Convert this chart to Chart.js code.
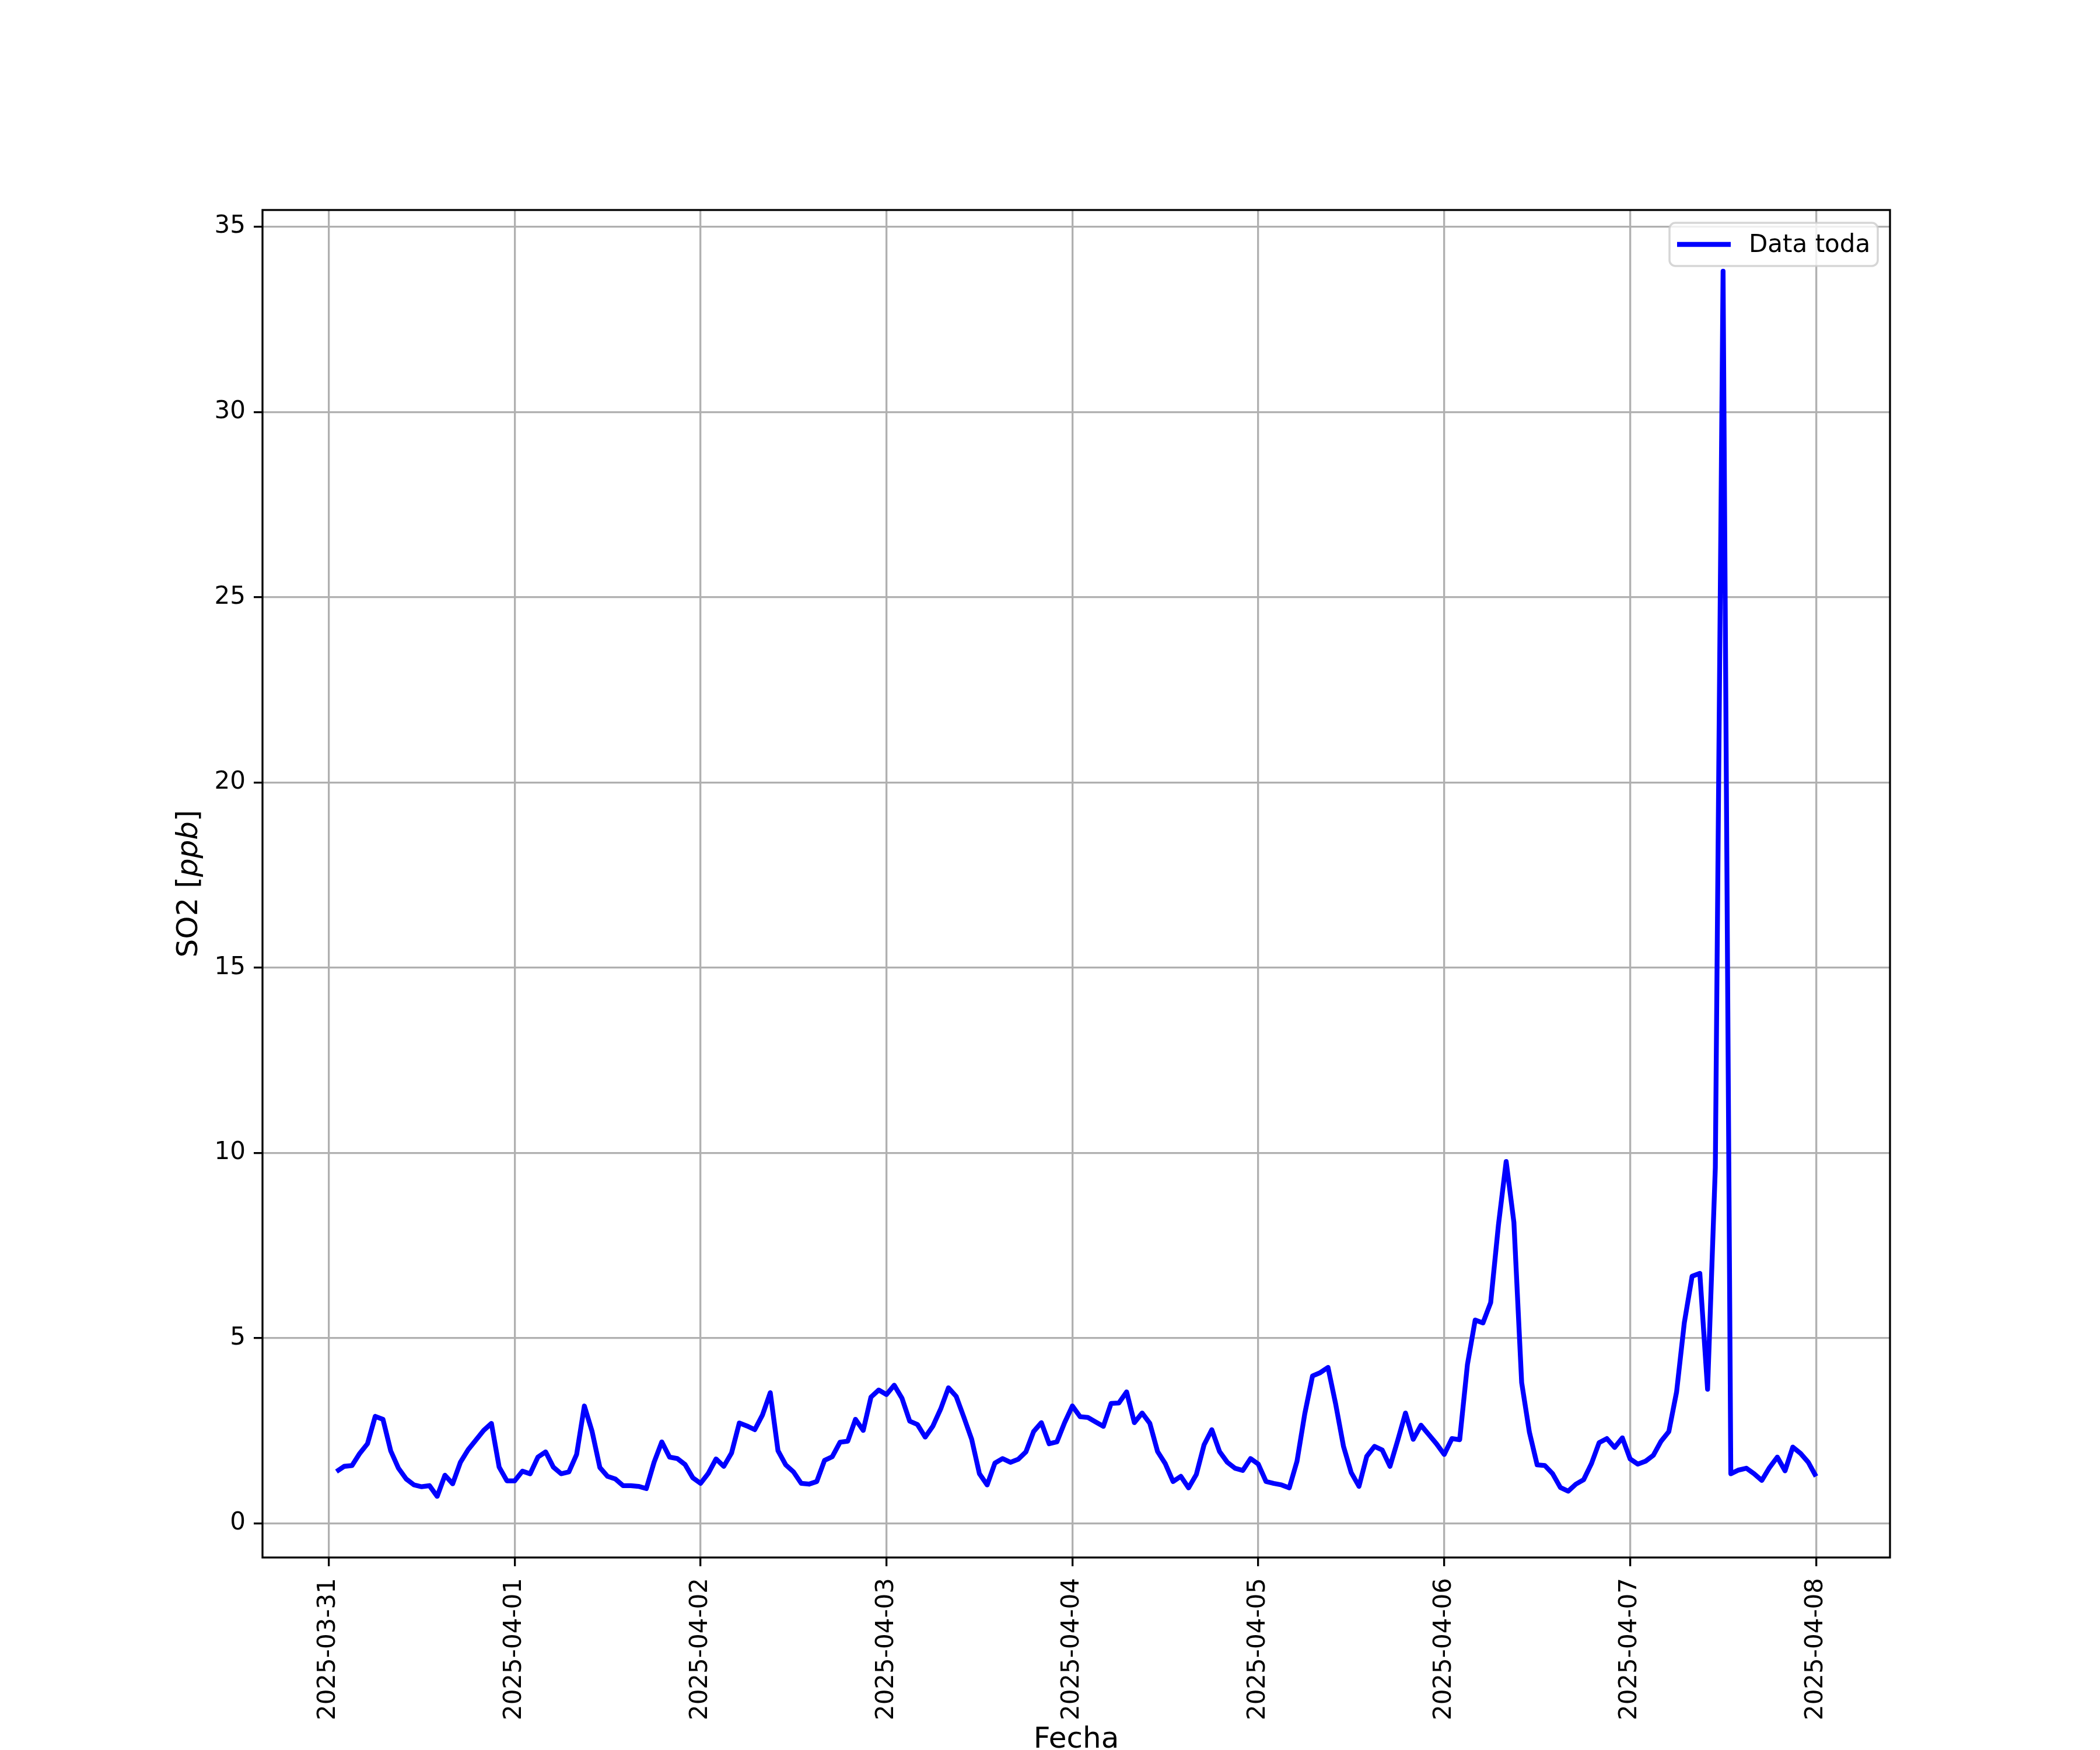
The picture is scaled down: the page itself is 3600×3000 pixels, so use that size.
<!DOCTYPE html>
<html>
<head>
<meta charset="utf-8">
<script src="https://cdn.jsdelivr.net/npm/chart.js@4.4.1/dist/chart.umd.min.js"></script>
<style>
  body { margin: 0; background: #fff; }
  canvas { display: block; }
</style>
</head>
<body>
<canvas id="grafico" width="3600" height="3000"></canvas>
<script>
// SO2 [ppb], un valor por hora: de 01:00 hasta 24:00 (00:00 del dia siguiente)
const dia0331 = [1.40, 1.54, 1.56, 1.89, 2.15, 2.89, 2.81, 1.96, 1.49, 1.20, 1.04, 0.99, 1.02, 0.73, 1.30, 1.07, 1.65, 1.99, 2.25, 2.51, 2.70, 1.52, 1.15, 1.15];
const dia0401 = [1.41, 1.34, 1.79, 1.93, 1.52, 1.34, 1.39, 1.86, 3.17, 2.48, 1.51, 1.27, 1.20, 1.02, 1.02, 1.00, 0.94, 1.65, 2.20, 1.79, 1.75, 1.59, 1.23, 1.08];
const dia0402 = [1.35, 1.74, 1.54, 1.90, 2.71, 2.63, 2.53, 2.93, 3.53, 1.96, 1.58, 1.39, 1.08, 1.06, 1.13, 1.70, 1.80, 2.19, 2.22, 2.81, 2.51, 3.41, 3.60, 3.48];
const dia0403 = [3.73, 3.38, 2.76, 2.67, 2.33, 2.63, 3.09, 3.66, 3.43, 2.86, 2.27, 1.34, 1.04, 1.63, 1.75, 1.65, 1.73, 1.93, 2.48, 2.72, 2.15, 2.20, 2.72, 3.17];
const dia0404 = [2.88, 2.86, 2.74, 2.62, 3.24, 3.25, 3.55, 2.72, 2.98, 2.70, 1.94, 1.61, 1.13, 1.27, 0.96, 1.32, 2.12, 2.53, 1.94, 1.65, 1.49, 1.43, 1.75, 1.60];
const dia0405 = [1.13, 1.08, 1.04, 0.96, 1.68, 2.96, 3.98, 4.07, 4.21, 3.21, 2.08, 1.37, 1.00, 1.81, 2.08, 1.98, 1.54, 2.24, 2.98, 2.27, 2.65, 2.40, 2.15, 1.86];
const dia0406 = [2.29, 2.26, 4.29, 5.49, 5.41, 5.96, 8.05, 9.77, 8.12, 3.80, 2.46, 1.58, 1.56, 1.34, 0.97, 0.87, 1.06, 1.18, 1.61, 2.18, 2.29, 2.05, 2.31, 1.74];
const dia0407 = [1.60, 1.68, 1.84, 2.22, 2.48, 3.55, 5.42, 6.67, 6.75, 3.62, 9.60, 33.80, 1.34, 1.44, 1.49, 1.34, 1.16, 1.51, 1.79, 1.42, 2.06, 1.89, 1.65, 1.27];

const fechas = ['2025-03-31', '2025-04-01', '2025-04-02', '2025-04-03', '2025-04-04', '2025-04-05', '2025-04-06', '2025-04-07', '2025-04-08'];
const horasFechas = [0, 24, 48, 72, 96, 120, 144, 168, 192]; // horas desde 2025-03-31 00:00
const ticksY = [0, 5, 10, 15, 20, 25, 30, 35];

const valores = [].concat(dia0331, dia0401, dia0402, dia0403, dia0404, dia0405, dia0406, dia0407);
const puntos = valores.map((v, i) => ({ x: i + 1, y: v })); // x = hora desde 2025-03-31 00:00

const FUENTE = '"DejaVu Sans", sans-serif';
const AZUL = '#0000ff';
const GRIS = '#b0b0b0';

// marco, leyenda y titulos de ejes al estilo matplotlib
const marcoYTextos = {
    id: 'marcoYTextos',
    afterDraw(chart) {
        const { ctx, chartArea: a } = chart;
        ctx.save();

        ctx.strokeStyle = '#000';
        ctx.lineWidth = 3.3;
        ctx.strokeRect(a.left, a.top, a.right - a.left, a.bottom - a.top);

        // leyenda
        const lw = 357, lh = 74;
        const lx = a.right - 21 - lw, ly = a.top + 22, r = 10;
        ctx.beginPath();
        ctx.moveTo(lx + r, ly);
        ctx.arcTo(lx + lw, ly, lx + lw, ly + lh, r);
        ctx.arcTo(lx + lw, ly + lh, lx, ly + lh, r);
        ctx.arcTo(lx, ly + lh, lx, ly, r);
        ctx.arcTo(lx, ly, lx + lw, ly, r);
        ctx.closePath();
        ctx.fillStyle = 'rgba(255,255,255,0.8)';
        ctx.fill();
        ctx.strokeStyle = 'rgba(204,204,204,0.8)';
        ctx.lineWidth = 3.5;
        ctx.stroke();

        const cy = ly + lh / 2;
        ctx.strokeStyle = AZUL;
        ctx.lineWidth = 8.3;
        ctx.beginPath();
        ctx.moveTo(lx + 13, cy);
        ctx.lineTo(lx + 105, cy);
        ctx.stroke();

        ctx.fillStyle = '#000';
        ctx.font = '42px ' + FUENTE;
        ctx.textAlign = 'left';
        ctx.textBaseline = 'middle';
        ctx.fillText('Data toda', lx + 136, cy + 2);

        // titulo eje x
        ctx.font = '50px ' + FUENTE;
        ctx.textAlign = 'center';
        ctx.textBaseline = 'alphabetic';
        ctx.fillText('Fecha', (a.left + a.right) / 2, 2996);

        // titulo eje y con "ppb" en cursiva
        ctx.translate(338, (a.top + a.bottom) / 2);
        ctx.rotate(-Math.PI / 2);
        const partes = [['SO2 [', ''], ['ppb', 'italic '], [']', '']];
        let total = 0;
        partes.forEach(p => { ctx.font = p[1] + '50px ' + FUENTE; total += ctx.measureText(p[0]).width; });
        let x = -total / 2;
        ctx.textAlign = 'left';
        partes.forEach(p => {
            ctx.font = p[1] + '50px ' + FUENTE;
            ctx.fillText(p[0], x, 0);
            x += ctx.measureText(p[0]).width;
        });

        ctx.restore();
    }
};

new Chart(document.getElementById('grafico'), {
    type: 'line',
    data: {
        datasets: [{
            label: 'Data toda',
            data: puntos,
            borderColor: AZUL,
            borderWidth: 8.3,
            borderJoinStyle: 'round',
            pointRadius: 0,
            tension: 0,
            fill: false
        }]
    },
    options: {
        responsive: false,
        devicePixelRatio: 1,
        animation: false,
        layout: { padding: { left: 0, top: 360, right: 360, bottom: 0 } },
        plugins: { legend: { display: false }, tooltip: { enabled: false } },
        scales: {
            x: {
                type: 'linear',
                min: -8.55,
                max: 201.55,
                afterBuildTicks: axis => { axis.ticks = horasFechas.map(v => ({ value: v })); },
                afterFit: scale => { scale.height = 330; },
                grid: { color: GRIS, lineWidth: 3.3, tickColor: '#000', tickWidth: 3.3, tickLength: 15 },
                border: { display: false },
                ticks: {
                    autoSkip: false,
                    minRotation: 90,
                    maxRotation: 90,
                    padding: 20,
                    color: '#000',
                    font: { family: 'DejaVu Sans', size: 42 },
                    callback: v => fechas[horasFechas.indexOf(v)]
                }
            },
            y: {
                type: 'linear',
                min: -0.92,
                max: 35.45,
                afterBuildTicks: axis => { axis.ticks = ticksY.map(v => ({ value: v })); },
                afterFit: scale => { scale.width = 450; },
                grid: { color: GRIS, lineWidth: 3.3, tickColor: '#000', tickWidth: 3.3, tickLength: 15 },
                border: { display: false },
                ticks: {
                    padding: 14,
                    color: '#000',
                    font: { family: 'DejaVu Sans', size: 42 },
                    callback: v => String(v)
                }
            }
        }
    },
    plugins: [marcoYTextos]
});
</script>
</body>
</html>
